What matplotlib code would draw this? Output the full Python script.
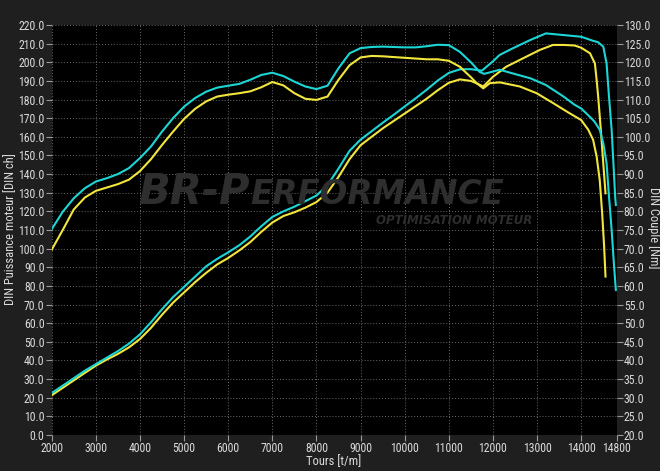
import matplotlib
matplotlib.use("Agg")
import matplotlib.pyplot as plt
from matplotlib import font_manager
from matplotlib.ticker import FixedLocator, MultipleLocator, FormatStrFormatter

# ---------------- data ----------------
rpm_grid = [2000, 2250, 2500, 2750, 3000, 3250, 3500, 3750, 4000, 4250, 4500, 4750,
            5000, 5250, 5500, 5750, 6000, 6250, 6500, 6750, 7000, 7250, 7500, 7750,
            8000, 8250, 8500, 8750, 9000, 9250, 9500, 9750, 10000, 10250, 10500,
            10750, 11000]

# cyan torque (Nm, right axis)
rpm_torque_cyan = rpm_grid + [11250, 11500, 11700, 11800, 12000, 12150, 12450, 12850,
                              13200, 13600, 13850, 14000, 14150, 14300, 14420, 14500,
                              14575, 14630, 14690, 14740, 14785]
torque_cyan = [75.2, 79.9, 83.5, 86.2, 88.0, 88.9, 90.0, 91.6, 94.3, 97.4,
               101.4, 105.0, 108.1, 110.4, 112.1, 113.2, 113.7, 114.2, 115.3, 116.6,
               117.2, 116.3, 114.8, 113.5, 112.8, 113.7, 118.4, 122.4, 123.8, 124.1,
               124.2, 124.1, 124.0, 124.0, 124.3, 124.7, 124.6,
               122.8, 120.0, 117.4, 116.9, 117.5, 118.0, 117.0, 115.7,
               113.9, 110.8, 108.6, 107.6, 105.9, 104.1, 101.9, 98.3,
               92.9, 84.0, 75.0, 66.1, 58.9]

# cyan power (DIN ch, left axis)
rpm_power_cyan = rpm_grid + [11250, 11500, 11750, 12000, 12150, 12450, 12850, 13200,
                             13600, 14000, 14270, 14380, 14500, 14575, 14630, 14690,
                             14730, 14770, 14785]
power_cyan = [22.5, 26.5, 30.5, 34.5, 38.0, 41.5, 45.0, 49.0, 54.0, 60.5,
              67.5, 74.0, 79.5, 85.0, 90.5, 94.5, 98.0, 101.8, 106.5, 112.0,
              117.0, 120.0, 122.5, 125.5, 128.5, 134.0, 143.0, 152.5, 158.5, 163.0,
              167.5, 171.8, 176.3, 180.7, 185.3, 190.2, 194.3,
              196.2, 196.3, 195.5, 200.5, 203.9, 207.5, 212.0, 215.5,
              214.6, 213.7, 211.5, 210.8, 208.4, 199.4, 181.5, 163.7,
              145.8, 127.9, 123.4]

# yellow torque (Nm, right axis)
rpm_torque_yellow = rpm_grid + [11250, 11400, 11500, 11630, 11780, 11930, 12160, 12610,
                                12990, 13370, 13740, 14000, 14160, 14270, 14350, 14420,
                                14475, 14520, 14551]
torque_yellow = [69.7, 75.0, 80.5, 83.7, 85.5, 86.4, 87.3, 88.5, 90.8, 94.0,
                 97.8, 101.4, 104.8, 107.5, 109.5, 110.8, 111.3, 111.7, 112.2, 113.3,
                 114.7, 113.8, 111.7, 110.2, 109.9, 110.8, 115.3, 119.2, 121.3, 121.7,
                 121.6, 121.4, 121.2, 121.0, 120.8, 120.8, 120.4,
                 118.8, 117.1, 116.0, 114.4, 113.0, 114.4, 114.6, 113.5,
                 111.7, 109.0, 106.3, 104.5, 101.9, 99.2, 94.7, 88.4,
                 79.5, 70.5, 62.5]

# yellow power (DIN ch, left axis)
rpm_power_yellow = rpm_grid + [11250, 11500, 11650, 11780, 12000, 12300, 12680, 13060,
                               13360, 13600, 13850, 14000, 14200, 14310, 14350, 14385,
                               14445, 14500, 14551]
power_yellow = [21.3, 25.3, 29.3, 33.3, 37.2, 40.5, 43.5, 47.0, 51.5, 57.5,
                64.5, 71.0, 76.5, 82.0, 87.0, 91.5, 95.0, 99.0, 103.5, 109.0,
                114.0, 117.5, 119.5, 122.0, 125.0, 130.0, 138.5, 148.0, 155.5, 160.0,
                164.5, 168.5, 172.5, 176.5, 180.5, 185.0, 189.0,
                190.8, 190.0, 188.5, 187.0, 192.2, 197.6, 202.1, 206.6,
                209.3, 209.3, 209.0, 207.8, 204.8, 199.4, 190.5, 181.5,
                163.7, 145.8, 129.7]

x_ticks = [2000, 3000, 4000, 5000, 6000, 7000, 8000, 9000, 10000, 11000, 12000,
           13000, 14000, 14800]

# ---------------- style ----------------
W, H = 660, 471


def have(name):
    try:
        font_manager.findfont(name, fallback_to_default=False)
        return True
    except Exception:
        return False


narrow = [f for f in ["DejaVu Sans Condensed", "Liberation Sans Narrow",
                      "Roboto Condensed", "Open Sans Condensed"] if have(f)]
FONT = narrow[:1] + ["DejaVu Sans"]
TICK_FS = 8.5 if narrow else 7.3
LAB_FS = 9.0 if narrow else 7.8

BG = "#1f1f1f"
TXT = "#dcdcdc"
CYAN = "#1cd6d6"
YELLOW = "#f2e63c"
WM = "#2e2e2e"

fig = plt.figure(figsize=(W / 100, H / 100), dpi=100, facecolor=BG)
L, R, T, B = 51.7, 616.5, 25.0, 435.0
ax = fig.add_axes([L / W, 1 - B / H, (R - L) / W, (B - T) / H])
ax.set_facecolor("black")
ax2 = ax.twinx()
ax2.set_facecolor("none")

ax.set_xlim(2000, 14800)
ax.set_ylim(0, 220)
ax2.set_ylim(20, 130)

ax.xaxis.set_major_locator(FixedLocator(x_ticks))
ax.yaxis.set_major_locator(MultipleLocator(10))
ax2.yaxis.set_major_locator(MultipleLocator(5))
ax.yaxis.set_major_formatter(FormatStrFormatter("%.1f"))
ax2.yaxis.set_major_formatter(FormatStrFormatter("%.1f"))

for a in (ax, ax2):
    for s in a.spines.values():
        s.set_visible(False)
    a.tick_params(colors="#9a9a9a", labelcolor=TXT, length=4, width=0.8,
                  labelsize=TICK_FS, pad=1.2)
    for lab in a.get_xticklabels() + a.get_yticklabels():
        lab.set_family(FONT)

ax.set_axisbelow(True)
ax.grid(True, color="#6a6a6a", linestyle=(0, (1, 2)), linewidth=0.7)

# watermark
fig.text(250 / W, 1 - 204 / H, "BR-P", color=WM, fontsize=30,
         fontweight="bold", fontstyle="italic", family=["DejaVu Sans"], ha="right",
         va="baseline", zorder=0.3)
fig.text(250 / W, 1 - 204 / H, "ERFORMANCE", color=WM, fontsize=23.5,
         fontweight="bold", fontstyle="italic", family=["DejaVu Sans"], ha="left",
         va="baseline", zorder=0.3)
fig.text(532 / W, 1 - 224 / H, "OPTIMISATION MOTEUR", color=WM, fontsize=8.5,
         fontweight="bold", fontstyle="italic", family=["DejaVu Sans"], ha="right",
         va="baseline", zorder=0.3)

# curves
ax.plot(rpm_power_yellow, power_yellow, color=YELLOW, lw=1.5, zorder=3)
ax.plot(rpm_power_cyan, power_cyan, color=CYAN, lw=1.5, zorder=4)
ax2.plot(rpm_torque_yellow, torque_yellow, color=YELLOW, lw=1.5, zorder=3)
ax2.plot(rpm_torque_cyan, torque_cyan, color=CYAN, lw=1.5, zorder=4)

# axis labels
fig.text(334 / W, 1 - 462 / H, "Tours [t/m]", color=TXT, fontsize=LAB_FS, family=FONT,
         ha="center", va="center")
fig.text(11 / W, 1 - 229 / H, "DIN Puissance moteur [DIN ch]", color=TXT,
         fontsize=LAB_FS, family=FONT, ha="center", va="center", rotation=90)
fig.text(654 / W, 1 - 228 / H, "DIN Couple [Nm]", color=TXT, fontsize=LAB_FS,
         family=FONT, ha="center", va="center", rotation=270)

fig.savefig("out.png", dpi=100, facecolor=BG)
